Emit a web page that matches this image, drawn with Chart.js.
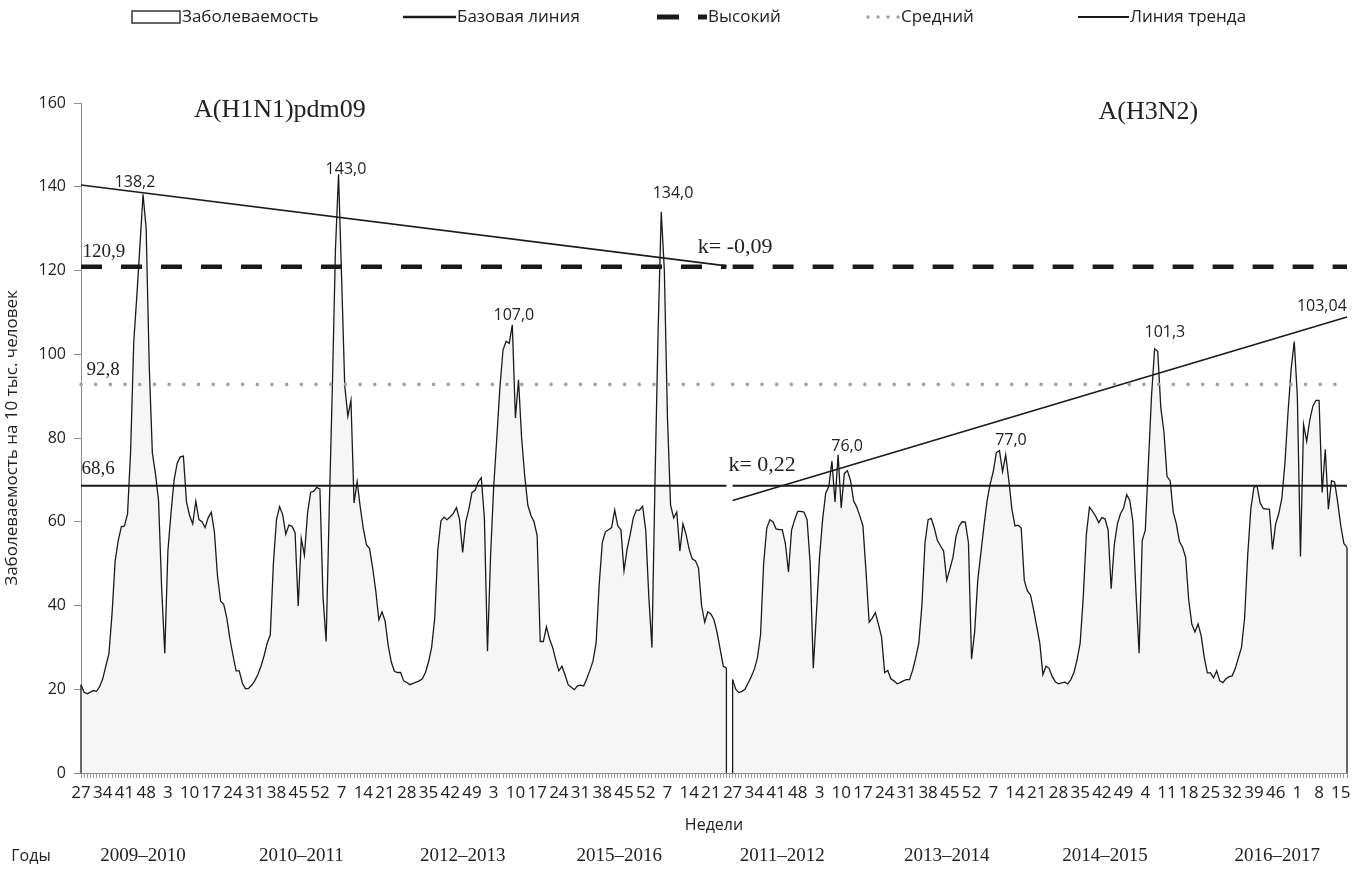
<!DOCTYPE html>
<html lang="ru">
<head>
<meta charset="utf-8">
<title>Заболеваемость гриппом по сезонам</title>
<script src="https://cdn.jsdelivr.net/npm/chart.js@4.4.1/dist/chart.umd.min.js"></script>
<style>
  html, body { margin: 0; padding: 0; background: #fff; }
  #wrap { width: 1361px; height: 869px; }
</style>
</head>
<body>
<div id="wrap"><canvas id="chart" width="1361" height="869"></canvas></div>
<script>
// weekly incidence per 10 000 people, each season starts at week 27
// A(H1N1)pdm09 seasons
const s2009 = [21.1, 19.3, 18.9, 19.3, 19.7, 19.5, 20.6, 22.5, 25.5, 28.5,
  38, 50.6, 55.5, 58.8, 59, 61.9, 77, 103, 114, 126,
  138.2, 130, 97, 76.4, 71.5, 65, 44, 28.6, 53, 62,
  70, 74, 75.5, 75.7, 64.7, 61.5, 59.5, 64.9, 60.5, 60,
  58.6, 61, 62.3, 57.5, 47, 41, 40.3, 37, 32, 28,
  24.4, 24.4];
const s2010 = [21.5, 20.1, 20.2, 21, 22, 23.5, 25.5, 28, 31, 33,
  50, 60.5, 63.6, 61.7, 57, 59.2, 58.9, 57.4, 39.9, 56,
  52, 62, 67, 67.3, 68.2, 67.8, 42, 31.4, 63, 92,
  125, 143.0, 118, 92.5, 85.2, 89, 64.5, 69.6, 63.5, 58.3,
  54.5, 53.6, 48.9, 43.5, 36.6, 38.5, 36.3, 30.5, 26.5, 24.3,
  24, 24];
const s2012 = [22, 21.6, 21.1, 21.4, 21.7, 22, 22.5, 24, 26.5, 30,
  37, 53.4, 60.2, 61.1, 60.5, 61.2, 62, 63.4, 60.5, 52.7,
  60, 63, 67, 67.5, 69.5, 70.5, 60.9, 29.1, 52, 68.4,
  80, 92, 101, 103.1, 102.6, 107.0, 84.8, 93.9, 80, 71,
  64, 61.5, 60, 56.7, 31.4, 31.4, 34.9, 32, 30, 27,
  24.4, 25.5, 23.4];
const s2015 = [21.1, 20.5, 19.9, 20.8, 21, 20.8, 22.5, 24.5, 26.7, 31,
  45, 55, 57.6, 58.1, 58.6, 62.8, 59, 58.1, 48.3, 53.5,
  57, 61, 62.8, 62.8, 63.7, 58, 42, 30, 70.3, 105.9,
  134.0, 120, 85, 64, 60.9, 62.3, 53, 59.5, 57, 53.4,
  51.1, 50.7, 49, 40, 36, 38.5, 38, 36.6, 33.5, 29.5,
  25.5, 25.1];
// A(H3N2) seasons
const s2011 = [22.3, 20, 19.2, 19.5, 20, 21.5, 23, 24.8, 27.5, 33,
  50, 58.5, 60.5, 60, 58.3, 58.1, 58.1, 54.8, 48, 58,
  60.5, 62.5, 62.5, 62.3, 60.5, 50, 25, 38, 51.5, 60.5,
  66.8, 68.4, 74.5, 64.7, 76.0, 63.3, 71.5, 72.2, 69.8, 65,
  63.5, 61.4, 59, 48, 36, 37, 38.3, 35.5, 32.5, 24,
  24.5, 22.5];
const s2013 = [22, 21.3, 21.6, 22, 22.3, 22.3, 24.5, 27.5, 31, 40,
  55, 60.5, 60.8, 58.5, 55.5, 54.2, 53, 46, 48.7, 51.5,
  56.5, 59, 60, 59.9, 55, 27.2, 33.7, 46, 52.5, 59,
  65, 69, 72, 76.5, 77.0, 72, 76, 70, 63, 59,
  59.2, 58.5, 46, 43.5, 42.5, 39, 35, 31, 23.5, 25.5,
  25, 23];
const s2014 = [21.8, 21.3, 21.5, 21.7, 21.3, 22.3, 24, 27, 31, 42,
  57, 63.5, 62.5, 61.3, 59.8, 61, 60.7, 58.1, 44, 54.5,
  59.5, 61.9, 63.3, 66.5, 65.1, 60, 43, 28.6, 55.5, 58,
  74, 90, 101.3, 100.7, 87.2, 81.5, 70.8, 69.8, 62.3, 59.5,
  55.3, 53.9, 51.5, 41.2, 35.5, 33.7, 35.6, 32.8, 27.6, 23.9,
  23.9, 22.7];
const s2016 = [24.4, 22, 21.6, 22.5, 23, 23.2, 25, 27.5, 30, 37,
  52, 63, 68.2, 68.6, 64.5, 63.2, 63, 63, 53.4, 59.5,
  61.9, 65.6, 74, 86.2, 96.5, 103.04, 90, 51.7, 83.2, 79.2,
  84.3, 87.6, 89, 89, 67, 77.3, 63, 69.8, 69.5, 64.7,
  59, 54.8, 53.9];

const seasonNames = ['2009–2010', '2010–2011', '2012–2013', '2015–2016',
  '2011–2012', '2013–2014', '2014–2015', '2016–2017'];
const seasonData = [s2009, s2010, s2012, s2015, s2011, s2013, s2014, s2016];
const weeksInYear = [52, 52, 53, 52, 52, 52, 52, 52];
const firstWeek = 27;

// thresholds
const baseLevel = 68.6;   // Базовая линия
const highLevel = 120.9;  // Высокий
const midLevel = 92.8;    // Средний
// trend line ends (start, end)
const trendH1N1 = [140.4, 121.1];
const trendH3N2 = [65.1, 108.9];

// build week labels + one long series, blank week between the two halves
const weeks = [];
const incidence = [];
const seasonStart = [];
seasonData.forEach(function (arr, s) {
  if (s === 4) { weeks.push(''); incidence.push(null); }
  seasonStart.push(weeks.length);
  arr.forEach(function (v, k) {
    weeks.push(String((firstWeek - 1 + k) % weeksInYear[s] + 1));
    incidence.push(v);
  });
});
const gap = seasonStart[4] - 1;
const lastIdx = weeks.length - 1;

function level(v) {
  return weeks.map((w, i) => i === gap ? null : v);
}
function trend(i0, i1, ends) {
  return weeks.map((w, i) => i === i0 ? ends[0] : (i === i1 ? ends[1] : null));
}

// text on the plot, placed in data units (index, value)
const notes = [
  { text: 'A(H1N1)pdm09', i: 64.1, v: 158.3, font: '26px "Liberation Serif"' },
  { text: 'A(H3N2)', i: 344, v: 157.8, font: '26px "Liberation Serif"' },
  { text: '138,2', i: 17.4, v: 141.1, font: '16px "Open Sans"' },
  { text: '143,0', i: 85.4, v: 144.2, font: '16px "Open Sans"' },
  { text: '107,0', i: 139.5, v: 109.3, font: '16px "Open Sans"' },
  { text: '134,0', i: 190.8, v: 138.3, font: '16px "Open Sans"' },
  { text: '76,0', i: 246.9, v: 78.1, font: '16px "Open Sans"' },
  { text: '77,0', i: 299.7, v: 79.5, font: '16px "Open Sans"' },
  { text: '101,3', i: 349.3, v: 105.1, font: '16px "Open Sans"' },
  { text: '103,04', i: 399.9, v: 111.5, font: '16px "Open Sans"' },
  { text: '120,9', i: 7.4, v: 124.3, font: '19px "Liberation Serif"' },
  { text: '92,8', i: 7.1, v: 96.2, font: '19px "Liberation Serif"' },
  { text: '68,6', i: 5.5, v: 72.6, font: '19px "Liberation Serif"' },
  { text: 'k= -0,09', i: 210.8, v: 125.5, font: '22px "Liberation Serif"' },
  { text: 'k= 0,22', i: 219.5, v: 73.6, font: '22px "Liberation Serif"' }
];
// where each season name sits under the axis (index)
const seasonLabelAt = [20, 71, 123, 173.5, 226, 279, 330, 385.5];

const ink = '#1a1a1a';

// closes the area outline with vertical edges, like the original
const areaEdges = {
  id: 'areaEdges',
  afterDatasetsDraw(chart) {
    const meta = chart.getDatasetMeta(0);
    const y0 = chart.scales.y.getPixelForValue(0);
    const ctx = chart.ctx;
    ctx.save();
    ctx.strokeStyle = ink;
    ctx.lineWidth = 1.3;
    ctx.beginPath();
    incidence.forEach(function (v, i) {
      if (v === null) return;
      const first = i === 0 || incidence[i - 1] === null;
      const last = i === incidence.length - 1 || incidence[i + 1] === null;
      if (first || last) {
        const p = meta.data[i];
        ctx.moveTo(p.x, y0);
        ctx.lineTo(p.x, p.y);
      }
    });
    ctx.stroke();
    ctx.restore();
  }
};

const extras = {
  id: 'extras',
  afterDraw(chart) {
    const ctx = chart.ctx;
    const xs = chart.scales.x, ys = chart.scales.y;
    ctx.save();
    ctx.fillStyle = '#222';
    ctx.textAlign = 'center';
    ctx.textBaseline = 'middle';
    notes.forEach(function (n) {
      ctx.font = n.font;
      ctx.fillText(n.text, xs.getPixelForValue(n.i), ys.getPixelForValue(n.v));
    });

    // season row
    const rowY = chart.chartArea.bottom + 83;
    ctx.font = '16px "Open Sans"';
    ctx.fillText('Годы', 31, rowY);
    ctx.font = '19px "Liberation Serif"';
    seasonNames.forEach(function (name, s) {
      ctx.fillText(name, xs.getPixelForValue(seasonLabelAt[s]), rowY);
    });

    // legend
    const ly = 17;
    ctx.textAlign = 'left';
    ctx.font = '17px "Open Sans"';
    ctx.lineCap = 'butt';
    // Заболеваемость
    ctx.fillStyle = '#fff';
    ctx.strokeStyle = '#333';
    ctx.lineWidth = 1.5;
    ctx.fillRect(132, ly - 6, 48, 12);
    ctx.strokeRect(132, ly - 6, 48, 12);
    // Базовая линия
    ctx.strokeStyle = ink;
    ctx.lineWidth = 2.5;
    ctx.beginPath(); ctx.moveTo(403, ly); ctx.lineTo(456, ly); ctx.stroke();
    // Высокий
    ctx.lineWidth = 5;
    ctx.setLineDash([22, 19]);
    ctx.beginPath(); ctx.moveTo(657, ly); ctx.lineTo(707, ly); ctx.stroke();
    // Средний
    ctx.strokeStyle = '#a0a0a0';
    ctx.lineWidth = 3.5;
    ctx.lineCap = 'round';
    ctx.setLineDash([0.01, 10]);
    ctx.beginPath(); ctx.moveTo(868, ly); ctx.lineTo(899, ly); ctx.stroke();
    // Линия тренда
    ctx.setLineDash([]);
    ctx.lineCap = 'butt';
    ctx.strokeStyle = ink;
    ctx.lineWidth = 2;
    ctx.beginPath(); ctx.moveTo(1078, ly); ctx.lineTo(1129, ly); ctx.stroke();

    ctx.fillStyle = '#222';
    ctx.fillText('Заболеваемость', 182, ly);
    ctx.fillText('Базовая линия', 457, ly);
    ctx.fillText('Высокий', 708, ly);
    ctx.fillText('Средний', 901, ly);
    ctx.fillText('Линия тренда', 1130, ly);
    ctx.restore();
  }
};

const lineBase = { pointRadius: 0, pointHoverRadius: 0, fill: false, tension: 0, order: 1 };

new Chart(document.getElementById('chart'), {
  type: 'line',
  data: {
    labels: weeks,
    datasets: [
      { label: 'Заболеваемость', data: incidence, borderColor: ink, borderWidth: 1.3,
        backgroundColor: '#f6f6f6', fill: 'origin', pointRadius: 0, tension: 0,
        spanGaps: false, order: 5 },
      Object.assign({ label: 'Базовая линия', data: level(baseLevel), borderColor: ink,
        borderWidth: 2.2 }, lineBase),
      Object.assign({ label: 'Высокий', data: level(highLevel), borderColor: ink,
        borderWidth: 4.5, borderDash: [21, 19] }, lineBase),
      Object.assign({ label: 'Средний', data: level(midLevel), borderColor: '#a0a0a0',
        borderWidth: 3.6, borderDash: [0.01, 14.68], borderCapStyle: 'round' }, lineBase),
      Object.assign({ label: 'Линия тренда', data: trend(0, gap - 1, trendH1N1),
        borderColor: ink, borderWidth: 1.6, spanGaps: true }, lineBase),
      Object.assign({ label: 'Линия тренда (H3N2)', data: trend(gap + 1, lastIdx, trendH3N2),
        borderColor: ink, borderWidth: 1.6, spanGaps: true }, lineBase)
    ]
  },
  options: {
    responsive: false,
    animation: false,
    devicePixelRatio: 1,
    layout: { padding: { top: 103, right: 14, bottom: 0, left: 0 } },
    plugins: {
      legend: { display: false },
      tooltip: { enabled: false }
    },
    scales: {
      x: {
        type: 'category',
        grid: { drawOnChartArea: false, tickLength: 5, color: '#9a9a9a' },
        border: { color: '#8c8c8c' },
        ticks: {
          autoSkip: false, maxRotation: 0, minRotation: 0, padding: 5,
          color: '#222', font: { family: 'Open Sans', size: 17 },
          callback: (val, idx) => idx % 7 === 0 ? weeks[idx] : ''
        },
        title: { display: true, text: 'Недели', color: '#222',
          font: { family: 'Open Sans', size: 16 }, padding: { top: 4, bottom: 34 } },
        afterFit: function (scale) { scale.height = 96; }
      },
      y: {
        min: 0, max: 160,
        grid: { drawOnChartArea: false, tickLength: 7, color: '#8c8c8c' },
        border: { color: '#8c8c8c' },
        ticks: { stepSize: 20, padding: 8, color: '#222',
          font: { family: 'Open Sans', size: 16 } },
        title: { display: true, text: 'Заболеваемость на 10 тыс. человек', color: '#222',
          font: { family: 'Open Sans', size: 17 }, padding: { top: 2, bottom: 0 } },
        afterFit: function (scale) { scale.width = 81; }
      }
    }
  },
  plugins: [areaEdges, extras]
});
</script>
</body>
</html>
